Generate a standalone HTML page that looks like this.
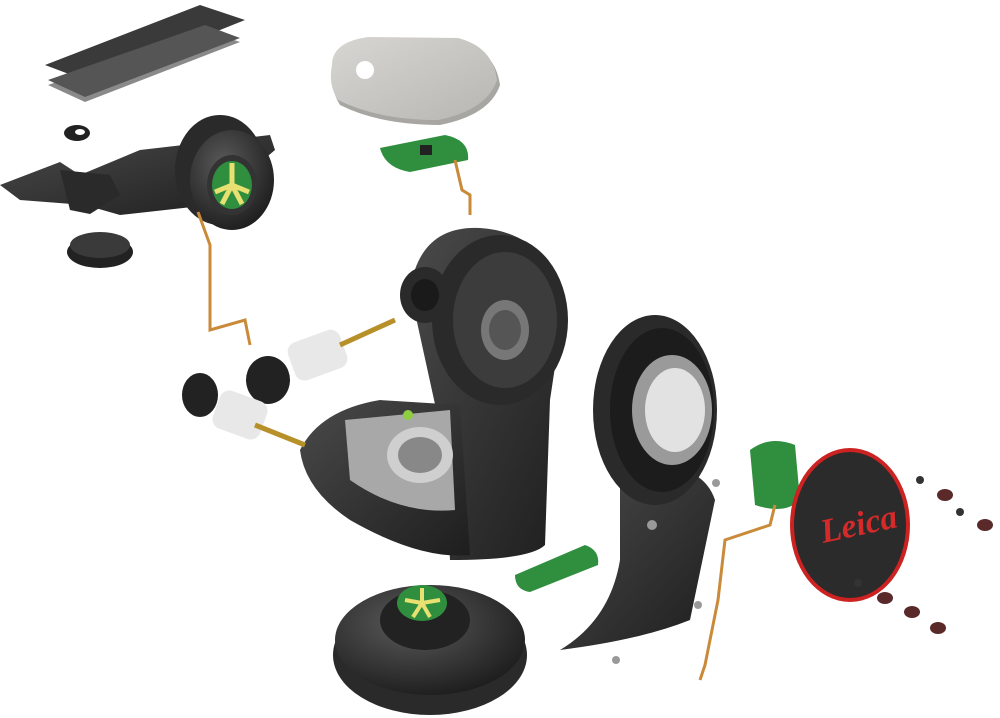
<!DOCTYPE html>
<html><head><meta charset="utf-8"><style>
html,body{margin:0;padding:0;background:#fff;width:1000px;height:718px;overflow:hidden}
svg{display:block}
</style></head><body>
<svg width="1000" height="718" viewBox="0 0 1000 718" xmlns="http://www.w3.org/2000/svg">
<defs>
<radialGradient id="dk" cx="40%" cy="35%" r="70%"><stop offset="0" stop-color="#5a5a5a"/><stop offset="1" stop-color="#1c1c1c"/></radialGradient>
<linearGradient id="body" x1="0" y1="0" x2="1" y2="1"><stop offset="0" stop-color="#4a4a4a"/><stop offset="1" stop-color="#1e1e1e"/></linearGradient>
<linearGradient id="pad" x1="0" y1="0" x2="1" y2="1"><stop offset="0" stop-color="#d8d6d2"/><stop offset="1" stop-color="#b8b6b2"/></linearGradient>
</defs>

<!-- top-left plates -->
<polygon points="45,65 200,5 245,20 90,82" fill="#3a3a3a"/>
<polygon points="48,85 205,30 240,42 85,102" fill="#8a8a8a"/>
<polygon points="48,80 205,25 240,38 85,97" fill="#555"/>
<!-- C clip -->
<ellipse cx="77" cy="133" rx="13" ry="8" fill="#222"/>
<ellipse cx="80" cy="132" rx="5" ry="3" fill="#fff"/>

<!-- pedal arm -->
<polygon points="0,185 60,162 80,175 140,150 270,135 275,150 210,205 120,215 85,205 20,200" fill="url(#body)"/>
<polygon points="60,170 70,210 90,214 120,195 110,175" fill="#2a2a2a"/>
<ellipse cx="220" cy="170" rx="45" ry="55" fill="#2a2a2a"/>
<ellipse cx="232" cy="180" rx="42" ry="50" fill="url(#dk)"/>
<ellipse cx="232" cy="185" rx="25" ry="30" fill="#333"/>
<ellipse cx="232" cy="185" rx="20" ry="24" fill="#2f8f3f"/>
<g stroke="#e8e070" stroke-width="5"><line x1="232" y1="185" x2="232" y2="163"/><line x1="232" y1="185" x2="249" y2="192"/><line x1="232" y1="185" x2="215" y2="192"/><line x1="232" y1="185" x2="222" y2="204"/><line x1="232" y1="185" x2="242" y2="204"/></g>
<!-- knob -->
<ellipse cx="100" cy="252" rx="33" ry="16" fill="#222"/>
<ellipse cx="100" cy="245" rx="30" ry="13" fill="#3a3a3a"/>
<!-- wire -->
<polyline points="198,212 210,245 210,330 245,320 250,345" fill="none" stroke="#c98a3a" stroke-width="3"/>

<!-- gray pad -->
<path d="M335,70 Q335,45 370,40 L460,42 Q495,50 500,85 Q490,115 440,125 Q380,125 340,105 Q330,90 335,70Z" fill="#a8a6a2"/>
<path d="M332,65 Q332,42 368,37 L458,38 Q493,47 497,80 Q487,110 438,120 Q378,120 338,100 Q328,85 332,65Z" fill="url(#pad)"/>
<circle cx="365" cy="70" r="9" fill="#fff"/>
<!-- top PCB -->
<path d="M380,148 L445,135 Q470,140 468,160 L410,172 Q385,168 380,148Z" fill="#2f8f3f"/>
<rect x="420" y="145" width="12" height="10" fill="#222"/>
<polyline points="455,160 462,190 470,195 470,215" fill="none" stroke="#c98a3a" stroke-width="3"/>

<!-- main body -->
<path d="M410,290 Q420,225 480,228 Q545,232 565,300 L550,400 L545,545 Q530,560 450,560 L445,450 Z" fill="url(#body)"/>
<ellipse cx="500" cy="320" rx="68" ry="85" fill="#2a2a2a"/>
<ellipse cx="505" cy="320" rx="52" ry="68" fill="#3c3c3c"/>
<ellipse cx="505" cy="330" rx="24" ry="30" fill="#777"/>
<ellipse cx="505" cy="330" rx="16" ry="20" fill="#555"/>
<ellipse cx="425" cy="295" rx="25" ry="28" fill="#2a2a2a"/>
<ellipse cx="425" cy="295" rx="14" ry="16" fill="#1a1a1a"/>
<!-- lower housing -->
<path d="M300,450 Q320,410 380,400 L460,405 L470,555 Q420,560 350,520 Q305,490 300,450Z" fill="url(#body)"/>
<path d="M345,420 L450,410 L455,510 Q400,515 350,480Z" fill="#a8a8a8"/>
<ellipse cx="420" cy="455" rx="33" ry="28" fill="#cfcfcf"/>
<ellipse cx="420" cy="455" rx="22" ry="18" fill="#888"/>
<circle cx="408" cy="415" r="5" fill="#8fcf3f"/>

<!-- knob assemblies -->
<rect x="290" y="335" width="55" height="40" rx="10" fill="#e8e8e8" transform="rotate(-20 318 355)"/>
<ellipse cx="268" cy="380" rx="22" ry="24" fill="#222"/>
<line x1="340" y1="345" x2="395" y2="320" stroke="#b8902a" stroke-width="5"/>
<rect x="215" y="395" width="50" height="40" rx="10" fill="#e8e8e8" transform="rotate(20 240 415)"/>
<ellipse cx="200" cy="395" rx="18" ry="22" fill="#222"/>
<line x1="255" y1="425" x2="305" y2="445" stroke="#b8902a" stroke-width="5"/>

<!-- base -->
<ellipse cx="430" cy="655" rx="97" ry="60" fill="#2a2a2a"/>
<ellipse cx="430" cy="640" rx="95" ry="55" fill="url(#dk)"/>
<ellipse cx="425" cy="620" rx="45" ry="30" fill="#222"/>
<ellipse cx="422" cy="603" rx="25" ry="18" fill="#2f8f3f"/>
<g stroke="#e8e070" stroke-width="4"><line x1="422" y1="603" x2="422" y2="588"/><line x1="422" y1="603" x2="440" y2="600"/><line x1="422" y1="603" x2="405" y2="600"/><line x1="422" y1="603" x2="430" y2="617"/><line x1="422" y1="603" x2="413" y2="617"/></g>
<!-- bottom pcb -->
<path d="M515,575 L585,545 Q600,550 598,565 L530,592 Q515,590 515,575Z" fill="#2f8f3f"/>

<!-- right ring and arm -->
<path d="M620,470 Q700,455 715,500 L690,620 Q640,640 560,650 Q610,620 620,560Z" fill="url(#body)"/>
<ellipse cx="655" cy="410" rx="62" ry="95" fill="#2a2a2a"/>
<ellipse cx="662" cy="410" rx="52" ry="82" fill="#1c1c1c"/>
<ellipse cx="672" cy="410" rx="40" ry="55" fill="#9a9a9a"/>
<ellipse cx="675" cy="410" rx="30" ry="42" fill="#e2e2e2"/>

<!-- right pcb + wire -->
<path d="M750,450 Q770,435 795,445 L800,500 Q785,515 755,505Z" fill="#2f8f3f"/>
<polyline points="775,505 770,525 725,540 718,600 705,665 700,680" fill="none" stroke="#c98a3a" stroke-width="3"/>

<!-- leica cap -->
<ellipse cx="850" cy="525" rx="60" ry="77" fill="#cc2222"/>
<ellipse cx="850" cy="525" rx="56" ry="73" fill="#2b2b2b"/>
<text x="820" y="537" font-family="Liberation Serif, serif" font-style="italic" font-weight="bold" font-size="34" fill="#d42a2a" transform="rotate(-12 850 525)">Leica</text>

<!-- screws -->
<g fill="#5a2a2a">
<ellipse cx="945" cy="495" rx="8" ry="6"/><ellipse cx="985" cy="525" rx="8" ry="6"/>
<ellipse cx="885" cy="598" rx="8" ry="6"/><ellipse cx="912" cy="612" rx="8" ry="6"/><ellipse cx="938" cy="628" rx="8" ry="6"/>
</g>
<g fill="#333"><circle cx="920" cy="480" r="4"/><circle cx="960" cy="512" r="4"/><circle cx="858" cy="583" r="4"/></g>
<g fill="#999"><circle cx="716" cy="483" r="4"/><circle cx="652" cy="525" r="5"/><circle cx="698" cy="605" r="4"/><circle cx="616" cy="660" r="4"/></g>
</svg>
</body></html>
